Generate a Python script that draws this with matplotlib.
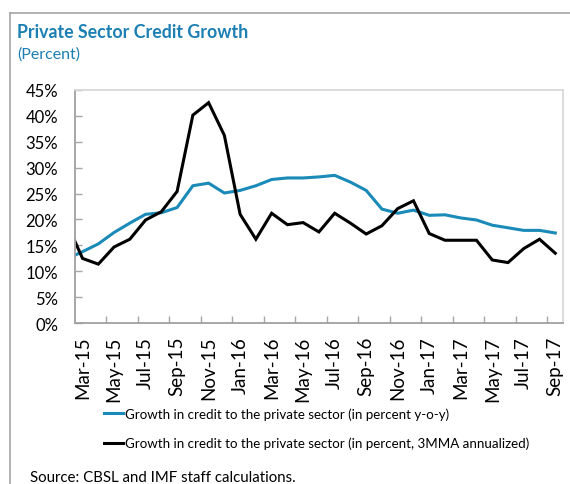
import matplotlib
matplotlib.use("Agg")
import matplotlib.pyplot as plt
import numpy as np

plt.rcParams["font.family"] = ["Lato", "DejaVu Sans"]

# Feb-15 .. Sep-17 (Feb-15 lies just outside the left edge of the plot)
yoy = [12.4, 13.8, 15.3, 17.5, 19.3, 21.0, 21.3, 22.3, 26.5, 27.0, 25.1,
       25.6, 26.5, 27.7, 28.0, 28.0, 28.2, 28.5, 27.2, 25.6, 22.0, 21.2,
       21.8, 20.8, 20.9, 20.3, 19.9, 18.9, 18.4, 17.9, 17.9, 17.4]
mma3 = [19.3, 12.5, 11.4, 14.7, 16.2, 19.9, 21.5, 25.4, 40.1, 42.5, 36.2,
        21.0, 16.2, 21.2, 19.0, 19.4, 17.6, 21.2, 19.3, 17.2, 18.8, 22.1,
        23.6, 17.3, 16.0, 16.0, 16.0, 12.2, 11.7, 14.4, 16.2, 13.5]
tick_labels = ["Mar-15", "May-15", "Jul-15", "Sep-15", "Nov-15", "Jan-16",
               "Mar-16", "May-16", "Jul-16", "Sep-16", "Nov-16", "Jan-17",
               "Mar-17", "May-17", "Jul-17", "Sep-17"]

blue = "#1a8ab8"
title_blue = "#1b7fb3"

fig = plt.figure(figsize=(5.7, 4.85), dpi=100)
ax = fig.add_axes([0.131, 0.3313, 0.857, 0.4817])

x = np.arange(len(yoy)) - 1
l1, = ax.plot(x, yoy, color=blue, lw=2.2, solid_joinstyle="miter")
l2, = ax.plot(x, mma3, color="black", lw=2.2, solid_joinstyle="miter")

ax.set_xlim(-0.5, 30.5)
ax.set_ylim(0, 45)
ax.set_yticks(np.arange(0, 46, 5))
ax.set_yticklabels([f"{v}%" for v in range(0, 46, 5)])
ax.set_xticks(np.arange(0, 31, 2))
ax.set_xticklabels(tick_labels, rotation=90)
ax.set_xticks(np.arange(1.5, 30, 2), minor=True)

ax.tick_params(axis="y", direction="in", length=5, width=1, color="#a6a6a6",
               pad=12, labelsize=12)
ax.tick_params(axis="x", which="major", length=0, pad=9, labelsize=13.5)
ax.tick_params(axis="x", which="minor", direction="in", length=5, width=1,
               color="#a6a6a6")

for s in ["left", "bottom"]:
    ax.spines[s].set_color("#a0a0a0")
    ax.spines[s].set_linewidth(1.3)
for s in ["top", "right"]:
    ax.spines[s].set_color("#d9d9d9")
    ax.spines[s].set_linewidth(1.3)

fig.text(17 / 570, 1 - 33 / 485, "Private Sector Credit Growth", color=title_blue,
         fontsize=12.8, fontweight="bold", va="center", ha="left")
fig.text(17 / 570, 1 - 55 / 485, "(Percent)", color=title_blue,
         fontsize=11.5, va="center", ha="left")

fig.legend([l1, l2],
           ["Growth in credit to the private sector (in percent y-o-y)",
            "Growth in credit to the private sector (in percent, 3MMA annualized)"],
           loc="upper left", bbox_to_anchor=(104 / 570, 1 - 408 / 485),
           frameon=False, fontsize=9.6, handlelength=1.45, handletextpad=0.1,
           labelspacing=1.3, borderaxespad=0, borderpad=0)

fig.text(30 / 570, 1 - 478 / 485, "Source: CBSL and IMF staff calculations.",
         fontsize=10.8, va="center", ha="left")

# outer frame
fig.add_artist(plt.Line2D([9.5 / 570, 9.5 / 570], [0, 1 - 14 / 485],
                          transform=fig.transFigure, color="#a6a6a6", lw=1.2))
fig.add_artist(plt.Line2D([9.5 / 570, 1], [1 - 14 / 485, 1 - 14 / 485],
                          transform=fig.transFigure, color="#a6a6a6", lw=1.2))

fig.savefig("out.png", dpi=100)
